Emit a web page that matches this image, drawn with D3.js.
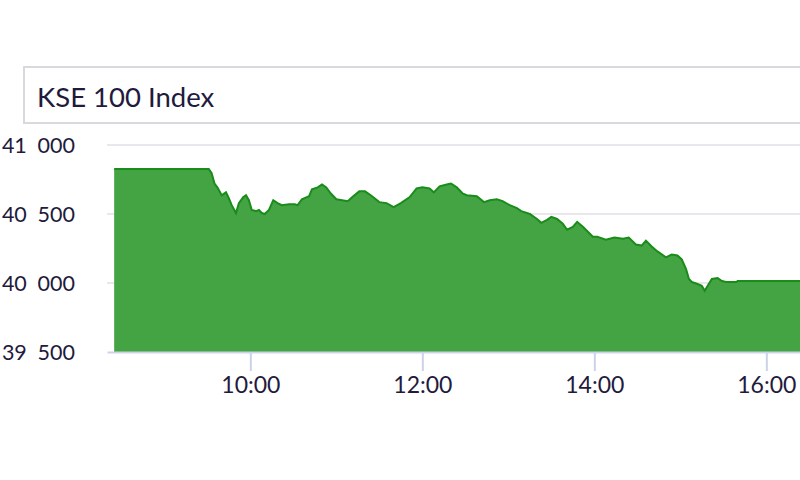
<!DOCTYPE html>
<html><head><meta charset="utf-8">
<script src="https://cdn.jsdelivr.net/npm/d3@7"></script>
<style>
html,body{margin:0;padding:0;background:#fff;overflow:hidden;}
svg{display:block;font-family:Lato,"Open Sans",sans-serif;}
</style></head>
<body><svg id="c" width="800" height="480"></svg>
<script>
const title = "KSE 100 Index";
const yTicks = [39500, 40000, 40500, 41000];
const xTicks = ["10:00", "12:00", "14:00", "16:00"];
const times = ["08:25","09:31","09:33","09:35","09:37","09:40","09:43","09:45","09:47","09:50","09:52","09:55","09:57","09:59",
"10:01","10:04","10:06","10:08","10:10","10:13","10:16","10:19","10:22","10:27","10:31","10:33","10:36","10:39","10:41","10:43","10:47","10:50","10:53","10:56",
"11:00","11:04","11:08","11:11","11:16","11:20","11:24","11:30","11:35","11:40","11:45","11:51","11:56",
"12:00","12:05","12:08","12:12","12:17","12:20","12:24","12:28","12:31","12:38","12:43","12:47","12:52","12:56",
"13:01","13:06","13:09","13:15","13:20","13:23","13:27","13:30","13:34","13:38","13:41","13:45","13:48","13:52","13:59",
"14:02","14:08","14:14","14:20","14:24","14:29","14:33","14:36","14:40","14:44","14:50","14:54","14:58",
"15:01","15:04","15:06","15:08","15:12","15:15","15:17","15:19","15:22","15:26","15:29","15:32","15:39","15:40","16:40"];
const values = [40826,40826,40795,40721,40693,40636,40657,40614,40564,40507,40579,40621,40636,40600,
40529,40521,40529,40507,40500,40529,40600,40579,40564,40571,40571,40564,40607,40621,40629,40679,40693,40714,40693,40650,
40607,40600,40593,40621,40664,40664,40636,40586,40579,40550,40579,40621,40686,
40693,40686,40657,40700,40714,40721,40693,40650,40636,40629,40586,40600,40607,40593,
40564,40543,40521,40500,40464,40436,40457,40479,40464,40429,40386,40407,40443,40407,40336,
40336,40314,40329,40321,40329,40279,40271,40307,40264,40229,40186,40207,40200,
40171,40100,40029,40007,39993,39979,39943,39979,40029,40036,40014,40007,40007,40014,40014];

const parse = d3.timeParse("%H:%M");
const data = times.map((t,i)=>({t:parse(t), v:values[i]}));

const svg = d3.select("#c");
const mLeft = 107, mBottom = 352, mTop = 145;
const textColor = "#221a3c";

// title box
svg.append("rect").attr("x",24).attr("y",67).attr("width",800).attr("height",56)
  .attr("fill","#fff").attr("stroke","#d8d8df").attr("stroke-width",2);
svg.append("text").attr("x",37).attr("y",107).attr("font-size",27.5).attr("fill",textColor).text(title);

const x = d3.scaleTime().domain([parse("08:20"), parse("16:40")]).range([mLeft, mLeft + 8.3333*86]);
const y = d3.scaleLinear().domain([39500, 41000]).range([mBottom, mTop]);

const fmt = v => d3.format(",")(v).replace(",", "\u2002");

// grid
svg.append("g").selectAll("line").data(yTicks.slice(1)).join("line")
  .attr("x1",mLeft).attr("x2",800).attr("y1",d=>y(d)).attr("y2",d=>y(d))
  .attr("stroke","#e0e0e6").attr("stroke-width",1.5);

// area
svg.append("path").datum(data)
  .attr("d", d3.area().x(d=>x(d.t)).y0(y(39500)).y1(d=>y(d.v)))
  .attr("fill","#44a444");
svg.append("path").datum(data)
  .attr("d", d3.line().x(d=>x(d.t)).y(d=>y(d.v)))
  .attr("fill","none").attr("stroke","#1a8c1a").attr("stroke-width",2);

// x axis
const xa = svg.append("g").attr("transform",`translate(0,${mBottom})`)
  .call(d3.axisBottom(x).tickValues(xTicks.map(parse)).tickFormat(d3.timeFormat("%H:%M")).tickSize(19).tickSizeOuter(0));
xa.select(".domain").attr("stroke","#ccd3e8").attr("stroke-width",2);
xa.selectAll(".tick line").attr("stroke","#ccd3e8").attr("stroke-width",2);
xa.selectAll(".tick text").attr("font-size",23).attr("fill",textColor).attr("font-family","Lato").attr("dy","0.95em").attr("y",19);

// y labels
svg.append("g").selectAll("text").data(yTicks).join("text")
  .attr("x",75).attr("y",d=>y(d)).attr("dy","0.38em").attr("text-anchor","end")
  .attr("font-size",21.5).attr("fill",textColor).text(fmt);
</script></body></html>
